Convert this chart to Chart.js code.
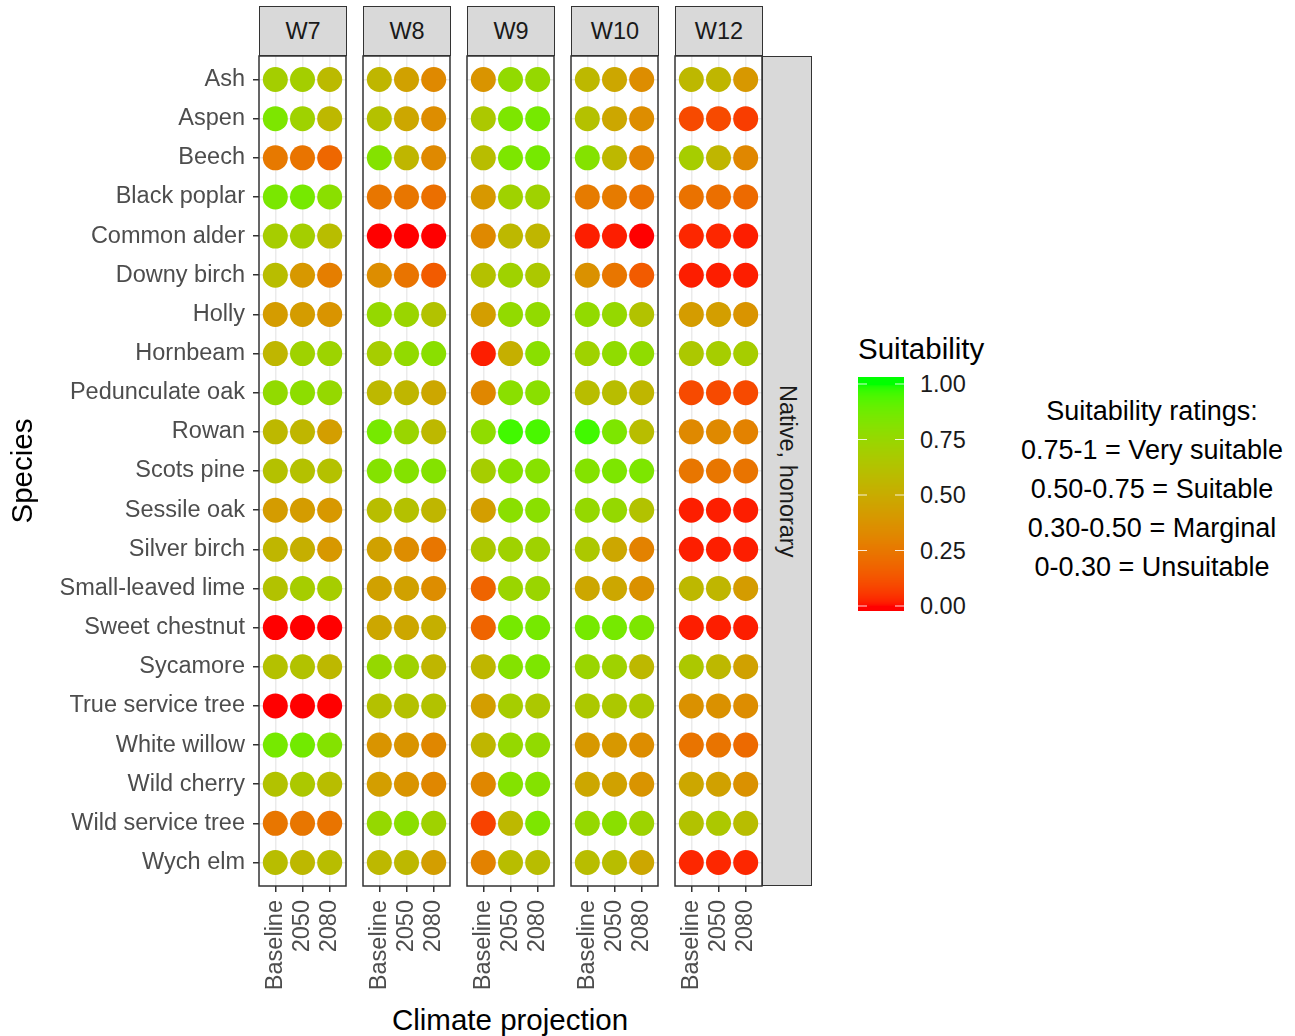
<!DOCTYPE html>
<html>
<head>
<meta charset="utf-8">
<script src="https://cdn.jsdelivr.net/npm/chart.js@4.4.0/dist/chart.umd.min.js"></script>
<style>
  body { margin: 0; background: #fff; font-family: "Liberation Sans", Arial, sans-serif; }
  #wrap { position: relative; width: 1295px; height: 1036px; overflow: hidden; }
  canvas.panel { position: absolute; left: 0; top: 0; }
  .strip { position: absolute; box-sizing: border-box; border: 1.5px solid #333; background: #d9d9d9;
           color: #1a1a1a; font-size: 23.5px; display: flex; align-items: center; justify-content: center; }
  .txt { position: absolute; white-space: nowrap; color: #000; transform: translate(-50%, -50%); }
  .vert { writing-mode: vertical-rl; }
</style>
</head>
<body>
<div id="wrap">
  <div class="txt" style="left:510px;top:1020px;font-size:29.5px">Climate projection</div>
  <div class="strip" style="left:762px;top:56px;width:50px;height:830px"><span class="vert">Native, honorary</span></div>
  <div class="txt" style="left:858px;top:349px;font-size:29.5px;transform:translate(0,-50%)">Suitability</div>
  <canvas id="bar" width="46" height="234" style="position:absolute;left:858px;top:377px"></canvas>
  <div id="barLabels"></div>
  <div id="notes"></div>
</div>

<script>
const species = ['Ash', 'Aspen', 'Beech', 'Black poplar', 'Common alder', 'Downy birch', 'Holly',
  'Hornbeam', 'Pedunculate oak', 'Rowan', 'Scots pine', 'Sessile oak', 'Silver birch',
  'Small-leaved lime', 'Sweet chestnut', 'Sycamore', 'True service tree', 'White willow',
  'Wild cherry', 'Wild service tree', 'Wych elm'];
const projections = ['Baseline', '2050', '2080'];
const panels = ['W7', 'W8', 'W9', 'W10', 'W12'];

// suitability per species: [Baseline, 2050, 2080]
const w7 = [
  [0.70, 0.70, 0.58], [0.84, 0.72, 0.57], [0.26, 0.24, 0.19], [0.85, 0.86, 0.80], [0.69, 0.70, 0.60],
  [0.60, 0.40, 0.28], [0.42, 0.42, 0.38], [0.56, 0.72, 0.73], [0.77, 0.79, 0.76], [0.57, 0.56, 0.43],
  [0.62, 0.62, 0.62], [0.42, 0.42, 0.40], [0.56, 0.52, 0.40], [0.63, 0.69, 0.69], [0.00, 0.00, 0.00],
  [0.62, 0.63, 0.57], [0.00, 0.00, 0.00], [0.86, 0.87, 0.82], [0.63, 0.66, 0.60], [0.25, 0.25, 0.24],
  [0.60, 0.57, 0.60]
];
const w8 = [
  [0.56, 0.45, 0.33], [0.62, 0.48, 0.35], [0.82, 0.56, 0.33], [0.25, 0.25, 0.22], [0.00, 0.00, 0.00],
  [0.35, 0.24, 0.15], [0.76, 0.74, 0.63], [0.69, 0.77, 0.80], [0.57, 0.56, 0.48], [0.86, 0.74, 0.57],
  [0.82, 0.82, 0.82], [0.60, 0.62, 0.56], [0.45, 0.35, 0.25], [0.45, 0.45, 0.35], [0.48, 0.48, 0.52],
  [0.76, 0.72, 0.56], [0.62, 0.62, 0.63], [0.38, 0.38, 0.32], [0.43, 0.38, 0.32], [0.76, 0.80, 0.72],
  [0.57, 0.57, 0.43]
];
const w9 = [
  [0.38, 0.77, 0.76], [0.66, 0.84, 0.86], [0.60, 0.84, 0.86], [0.40, 0.72, 0.72], [0.33, 0.57, 0.56],
  [0.62, 0.72, 0.66], [0.43, 0.77, 0.77], [0.02, 0.52, 0.80], [0.32, 0.80, 0.80], [0.78, 0.96, 0.95],
  [0.69, 0.81, 0.81], [0.43, 0.80, 0.80], [0.66, 0.72, 0.72], [0.18, 0.74, 0.74], [0.18, 0.86, 0.86],
  [0.56, 0.82, 0.84], [0.43, 0.69, 0.66], [0.56, 0.76, 0.77], [0.32, 0.82, 0.82], [0.08, 0.57, 0.84],
  [0.30, 0.60, 0.60]
];
const w10 = [
  [0.57, 0.48, 0.35], [0.62, 0.48, 0.35], [0.82, 0.57, 0.30], [0.27, 0.27, 0.23], [0.02, 0.02, 0.00],
  [0.37, 0.25, 0.15], [0.77, 0.76, 0.63], [0.72, 0.78, 0.78], [0.60, 0.60, 0.56], [0.96, 0.84, 0.60],
  [0.82, 0.84, 0.84], [0.76, 0.76, 0.63], [0.66, 0.48, 0.30], [0.48, 0.48, 0.37], [0.86, 0.86, 0.84],
  [0.74, 0.72, 0.57], [0.66, 0.66, 0.66], [0.40, 0.40, 0.35], [0.48, 0.45, 0.38], [0.76, 0.80, 0.73],
  [0.60, 0.60, 0.48]
];
const w12 = [
  [0.57, 0.56, 0.40], [0.10, 0.10, 0.07], [0.69, 0.56, 0.32], [0.23, 0.22, 0.20], [0.03, 0.03, 0.02],
  [0.02, 0.02, 0.02], [0.42, 0.43, 0.38], [0.66, 0.69, 0.69], [0.10, 0.10, 0.10], [0.33, 0.33, 0.30],
  [0.25, 0.25, 0.24], [0.02, 0.02, 0.02], [0.02, 0.02, 0.02], [0.57, 0.56, 0.42], [0.02, 0.02, 0.02],
  [0.66, 0.57, 0.45], [0.37, 0.37, 0.35], [0.24, 0.24, 0.20], [0.48, 0.45, 0.37], [0.63, 0.66, 0.60],
  [0.03, 0.03, 0.03]
];
const panelData = [w7, w8, w9, w10, w12];

const legendTicks = [1, 0.75, 0.5, 0.25, 0];
const notes = ['Suitability ratings:', '0.75-1 = Very suitable', '0.50-0.75 = Suitable',
  '0.30-0.50 = Marginal', '0-0.30 = Unsuitable'];

// red -> green in CIELAB, like ggplot's gradient
function lin(c) { c /= 255; return c <= 0.04045 ? c / 12.92 : Math.pow((c + 0.055) / 1.055, 2.4); }
function gam(c) { c = c <= 0.0031308 ? 12.92 * c : 1.055 * Math.pow(c, 1 / 2.4) - 0.055; return Math.round(Math.min(1, Math.max(0, c)) * 255); }
function toLab(r, g, b) {
  const R = lin(r), G = lin(g), B = lin(b);
  const X = (0.4124564 * R + 0.3575761 * G + 0.1804375 * B) / 0.95047;
  const Y = 0.2126729 * R + 0.7151522 * G + 0.0721750 * B;
  const Z = (0.0193339 * R + 0.1191920 * G + 0.9503041 * B) / 1.08883;
  const f = t => t > 0.008856 ? Math.cbrt(t) : 7.787 * t + 16 / 116;
  return [116 * f(Y) - 16, 500 * (f(X) - f(Y)), 200 * (f(Y) - f(Z))];
}
function fromLab(L, a, b) {
  const fy = (L + 16) / 116, fx = fy + a / 500, fz = fy - b / 200;
  const inv = t => t ** 3 > 0.008856 ? t ** 3 : (t - 16 / 116) / 7.787;
  const X = inv(fx) * 0.95047, Y = inv(fy), Z = inv(fz) * 1.08883;
  const R = 3.2404542 * X - 1.5371385 * Y - 0.4985314 * Z;
  const G = -0.9692660 * X + 1.8760108 * Y + 0.0415560 * Z;
  const B = 0.0556434 * X - 0.2040259 * Y + 1.0572252 * Z;
  return 'rgb(' + gam(R) + ',' + gam(G) + ',' + gam(B) + ')';
}
const labLow = toLab(255, 0, 0), labHigh = toLab(0, 255, 0);
function suitColor(v) {
  return fromLab(labLow[0] + v * (labHigh[0] - labLow[0]),
                 labLow[1] + v * (labHigh[1] - labLow[1]),
                 labLow[2] + v * (labHigh[2] - labLow[2]));
}

const wrap = document.getElementById('wrap');
const family = '"Liberation Sans", Arial, sans-serif';
const panelLeft = [259, 363, 467, 571, 675];
const panelW = 87, plotTop = 56, plotBottom = 886;

const frame = {
  id: 'frame',
  afterDraw(chart) {
    const a = chart.chartArea, c = chart.ctx;
    c.save();
    c.strokeStyle = '#333';
    c.lineWidth = 1.5;
    c.strokeRect(a.left, a.top, a.right - a.left, a.bottom - a.top);
    c.restore();
  }
};

panels.forEach((name, i) => {
  const first = i === 0;
  const strip = document.createElement('div');
  strip.className = 'strip';
  strip.style.cssText = `left:${panelLeft[i]}px;top:6px;width:${panelW + 1}px;height:50px`;
  strip.textContent = name;
  wrap.appendChild(strip);

  const cv = document.createElement('canvas');
  cv.className = 'panel';
  cv.width = 1295; cv.height = 1036;
  wrap.appendChild(cv);

  const points = [];
  panelData[i].forEach((row, s) => row.forEach((v, p) => points.push({ x: p, y: s, v })));

  new Chart(cv, {
    type: 'scatter',
    data: {
      datasets: [{
        data: points,
        pointRadius: 12.5,
        pointHoverRadius: 12.5,
        borderWidth: 0,
        backgroundColor: ctx => suitColor(ctx.raw ? ctx.raw.v : 0)
      }]
    },
    options: {
      responsive: false,
      animation: false,
      layout: { padding: { left: first ? 0 : panelLeft[i], right: 1295 - panelLeft[i] - panelW, top: plotTop, bottom: 0 } },
      plugins: { legend: { display: false }, tooltip: { enabled: false } },
      scales: {
        x: {
          type: 'linear', min: -0.6, max: 2.6,
          afterBuildTicks: s => { s.ticks = projections.map((_, k) => ({ value: k })); },
          afterFit: s => { s.height = 1036 - plotBottom; },
          ticks: { callback: v => projections[v], minRotation: 90, maxRotation: 90, autoSkip: false,
                   color: '#4d4d4d', font: { size: 23.5, family }, padding: 8 },
          grid: { color: '#ebebeb', lineWidth: 1.5, tickLength: 6, tickColor: '#333', tickWidth: 1.5 },
          border: { display: false }
        },
        y: {
          type: 'linear', reverse: true, min: -0.6, max: 20.6,
          afterBuildTicks: s => { s.ticks = species.map((_, k) => ({ value: k })); },
          afterFit: s => { s.width = first ? panelLeft[0] : 0; },
          ticks: { display: first, callback: v => species[v], autoSkip: false,
                   color: '#4d4d4d', font: { size: 23.5, family }, padding: 8 },
          grid: { color: '#ebebeb', lineWidth: 1.5, drawTicks: first, tickLength: 6, tickColor: '#333', tickWidth: 1.5 },
          border: { display: false },
          title: { display: first, text: 'Species', color: '#000', font: { size: 29.5, family }, padding: { top: 6, bottom: 0 } }
        }
      }
    },
    plugins: [frame]
  });
});

// colour bar
const bar = document.getElementById('bar');
const bctx = bar.getContext('2d');
const barTop = 377, tickTop = 384, tickSpan = 222;
for (let yy = 0; yy < bar.height; yy++) {
  const v = Math.min(1, Math.max(0, 1 - (yy + barTop - tickTop) / tickSpan));
  bctx.fillStyle = suitColor(v);
  bctx.fillRect(0, yy, bar.width, 1);
}
bctx.strokeStyle = 'rgba(255,255,255,0.85)';
bctx.lineWidth = 1.2;
const barLabels = document.getElementById('barLabels');
legendTicks.forEach(t => {
  const y = tickTop - barTop + (1 - t) * tickSpan;
  bctx.beginPath();
  bctx.moveTo(0, y); bctx.lineTo(9, y);
  bctx.moveTo(bar.width - 9, y); bctx.lineTo(bar.width, y);
  bctx.stroke();
  const d = document.createElement('div');
  d.className = 'txt';
  d.style.cssText = `left:920px;top:${barTop + y}px;font-size:23.5px;color:#1a1a1a;transform:translate(0,-50%)`;
  d.textContent = t.toFixed(2);
  barLabels.appendChild(d);
});

const notesEl = document.getElementById('notes');
notes.forEach((n, k) => {
  const d = document.createElement('div');
  d.className = 'txt';
  d.style.cssText = `left:1152px;top:${411 + k * 39}px;font-size:27px`;
  d.textContent = n;
  notesEl.appendChild(d);
});
</script>
</body>
</html>
